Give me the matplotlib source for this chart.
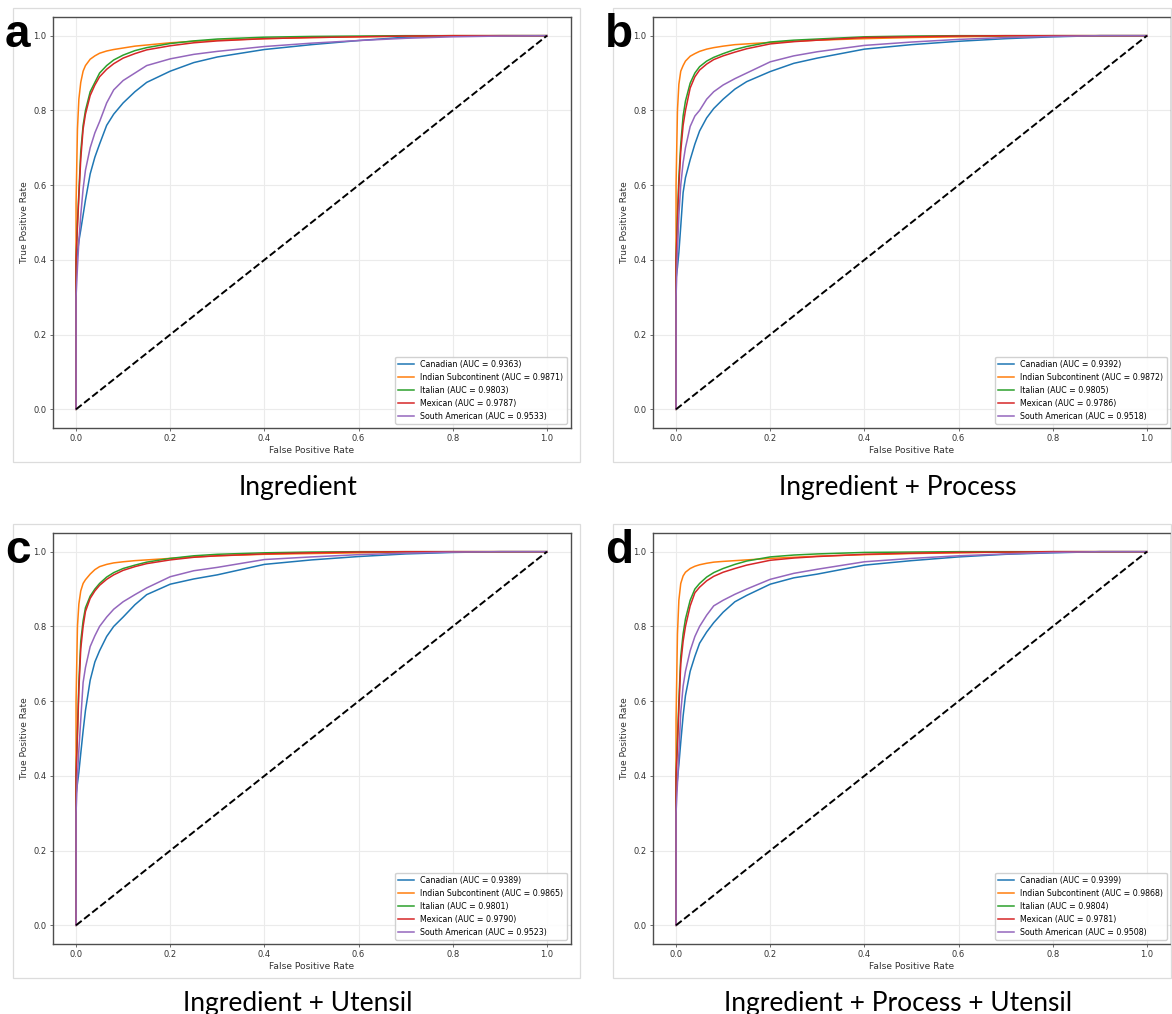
import matplotlib
matplotlib.use("Agg")
import matplotlib.pyplot as plt
from matplotlib.patches import Rectangle

# ---- data -------------------------------------------------------------
cuisines = ["Canadian", "Indian Subcontinent", "Italian", "Mexican", "South American"]
colors = ["#1f77b4", "#ff7f0e", "#2ca02c", "#d62728", "#9467bd"]

# shared false-positive-rate grid (first two points form the vertical start)
fpr = [0, 0, 0.003, 0.006, 0.01, 0.015, 0.02, 0.03, 0.04, 0.05, 0.065, 0.08,
       0.1, 0.125, 0.15, 0.2, 0.25, 0.3, 0.4, 0.5, 0.6, 0.7, 0.8, 0.9, 1.0]

# panel a: Ingredient
tpr_a_can = [0, 0.38, 0.42, 0.45, 0.48, 0.52, 0.56, 0.63, 0.675, 0.71, 0.76, 0.79, 0.82, 0.85, 0.875, 0.905, 0.928, 0.943, 0.963, 0.976, 0.987, 0.996, 0.999, 1.0, 1.0]
tpr_a_ind = [0, 0.55, 0.75, 0.83, 0.875, 0.905, 0.92, 0.937, 0.946, 0.953, 0.959, 0.963, 0.967, 0.972, 0.975, 0.981, 0.985, 0.988, 0.992, 0.995, 0.997, 0.999, 1.0, 1.0, 1.0]
tpr_a_ita = [0, 0.40, 0.50, 0.58, 0.69, 0.76, 0.80, 0.85, 0.875, 0.90, 0.92, 0.935, 0.948, 0.960, 0.968, 0.979, 0.986, 0.991, 0.996, 0.998, 0.999, 1.0, 1.0, 1.0, 1.0]
tpr_a_mex = [0, 0.40, 0.49, 0.57, 0.67, 0.75, 0.79, 0.84, 0.868, 0.89, 0.91, 0.925, 0.94, 0.952, 0.962, 0.973, 0.981, 0.986, 0.992, 0.995, 0.997, 0.999, 1.0, 1.0, 1.0]
tpr_a_sam = [0, 0.30, 0.38, 0.45, 0.52, 0.59, 0.64, 0.70, 0.74, 0.77, 0.82, 0.855, 0.88, 0.90, 0.92, 0.938, 0.95, 0.958, 0.971, 0.98, 0.987, 0.993, 0.997, 0.999, 1.0]
auc_a = [0.9363, 0.9871, 0.9803, 0.9787, 0.9533]

# panel b: Ingredient + Process
tpr_b_can = [0, 0.35, 0.38, 0.42, 0.49, 0.58, 0.62, 0.668, 0.71, 0.745, 0.78, 0.805, 0.83, 0.857, 0.877, 0.904, 0.926, 0.94, 0.964, 0.976, 0.985, 0.992, 0.997, 1.0, 1.0]
tpr_b_ind = [0, 0.6, 0.80, 0.87, 0.905, 0.92, 0.932, 0.945, 0.952, 0.958, 0.964, 0.968, 0.972, 0.976, 0.978, 0.982, 0.985, 0.988, 0.992, 0.995, 0.997, 0.999, 1.0, 1.0, 1.0]
tpr_b_ita = [0, 0.4, 0.52, 0.62, 0.71, 0.785, 0.825, 0.873, 0.90, 0.917, 0.932, 0.942, 0.952, 0.963, 0.971, 0.983, 0.988, 0.991, 0.997, 0.999, 1.0, 1.0, 1.0, 1.0, 1.0]
tpr_b_mex = [0, 0.4, 0.5, 0.6, 0.69, 0.76, 0.80, 0.86, 0.89, 0.908, 0.924, 0.936, 0.946, 0.956, 0.965, 0.978, 0.984, 0.988, 0.995, 0.997, 0.999, 1.0, 1.0, 1.0, 1.0]
tpr_b_sam = [0, 0.3, 0.42, 0.52, 0.6, 0.66, 0.70, 0.757, 0.785, 0.80, 0.83, 0.85, 0.868, 0.885, 0.90, 0.93, 0.946, 0.957, 0.974, 0.983, 0.99, 0.995, 0.998, 1.0, 1.0]
auc_b = [0.9392, 0.9872, 0.9805, 0.9786, 0.9518]

# panel c: Ingredient + Utensil
tpr_c_can = [0, 0.35, 0.38, 0.41, 0.46, 0.52, 0.575, 0.656, 0.705, 0.735, 0.773, 0.80, 0.825, 0.858, 0.885, 0.913, 0.927, 0.938, 0.966, 0.978, 0.987, 0.994, 0.998, 1.0, 1.0]
tpr_c_ind = [0, 0.6, 0.8, 0.86, 0.895, 0.915, 0.925, 0.94, 0.952, 0.96, 0.966, 0.97, 0.973, 0.976, 0.978, 0.982, 0.986, 0.989, 0.993, 0.995, 0.997, 0.999, 1.0, 1.0, 1.0]
tpr_c_ita = [0, 0.4, 0.52, 0.65, 0.76, 0.815, 0.85, 0.881, 0.90, 0.915, 0.932, 0.944, 0.955, 0.964, 0.972, 0.982, 0.989, 0.993, 0.997, 0.999, 1.0, 1.0, 1.0, 1.0, 1.0]
tpr_c_mex = [0, 0.4, 0.51, 0.63, 0.74, 0.80, 0.84, 0.875, 0.895, 0.91, 0.926, 0.938, 0.95, 0.96, 0.968, 0.978, 0.985, 0.989, 0.994, 0.997, 0.999, 1.0, 1.0, 1.0, 1.0]
tpr_c_sam = [0, 0.3, 0.40, 0.47, 0.55, 0.65, 0.69, 0.746, 0.775, 0.80, 0.825, 0.846, 0.866, 0.885, 0.903, 0.933, 0.949, 0.958, 0.979, 0.986, 0.992, 0.996, 0.999, 1.0, 1.0]
auc_c = [0.9389, 0.9865, 0.9801, 0.9790, 0.9523]

# panel d: Ingredient + Process + Utensil
tpr_d_can = [0, 0.35, 0.39, 0.43, 0.49, 0.56, 0.615, 0.68, 0.72, 0.755, 0.785, 0.81, 0.838, 0.866, 0.883, 0.913, 0.93, 0.94, 0.964, 0.976, 0.986, 0.993, 0.997, 1.0, 1.0]
tpr_d_ind = [0, 0.55, 0.78, 0.87, 0.915, 0.935, 0.945, 0.955, 0.961, 0.965, 0.969, 0.972, 0.974, 0.976, 0.978, 0.982, 0.985, 0.988, 0.992, 0.995, 0.997, 0.999, 1.0, 1.0, 1.0]
tpr_d_ita = [0, 0.4, 0.5, 0.6, 0.72, 0.78, 0.82, 0.87, 0.90, 0.915, 0.932, 0.944, 0.955, 0.966, 0.975, 0.986, 0.991, 0.994, 0.998, 0.999, 1.0, 1.0, 1.0, 1.0, 1.0]
tpr_d_mex = [0, 0.4, 0.48, 0.58, 0.70, 0.76, 0.80, 0.855, 0.89, 0.905, 0.922, 0.934, 0.945, 0.955, 0.964, 0.977, 0.983, 0.987, 0.993, 0.996, 0.998, 0.999, 1.0, 1.0, 1.0]
tpr_d_sam = [0, 0.3, 0.38, 0.46, 0.57, 0.64, 0.68, 0.735, 0.773, 0.80, 0.83, 0.855, 0.87, 0.886, 0.90, 0.926, 0.942, 0.953, 0.973, 0.982, 0.989, 0.994, 0.998, 1.0, 1.0]
auc_d = [0.9399, 0.9868, 0.9804, 0.9781, 0.9508]

panel_letters = ["a", "b", "c", "d"]
panel_titles = ["Ingredient", "Ingredient + Process",
                "Ingredient + Utensil", "Ingredient + Process + Utensil"]
ticks = [0.0, 0.2, 0.4, 0.6, 0.8, 1.0]

panels = [
    ([tpr_a_can, tpr_a_ind, tpr_a_ita, tpr_a_mex, tpr_a_sam], auc_a),
    ([tpr_b_can, tpr_b_ind, tpr_b_ita, tpr_b_mex, tpr_b_sam], auc_b),
    ([tpr_c_can, tpr_c_ind, tpr_c_ita, tpr_c_mex, tpr_c_sam], auc_c),
    ([tpr_d_can, tpr_d_ind, tpr_d_ita, tpr_d_mex, tpr_d_sam], auc_d),
]

# ---- layout (pixel geometry of a 1172 x 1014 canvas) -------------------
W, H = 1172, 1014
fig = plt.figure(figsize=(W / 100, H / 100), dpi=100)
fig.patch.set_facecolor("white")

col_dx = [0, 600]
row_dy = [0, 516]


def px_rect(x0, y0, x1, y1):
    return [x0 / W, 1 - y1 / H, (x1 - x0) / W, (y1 - y0) / H]


for i, (curves, aucs) in enumerate(panels):
    dx = col_dx[i % 2]
    dy = row_dy[i // 2]

    # light frame around each panel
    fx0, fy0, fx1, fy1 = 13 + dx, 8 + dy, min(580 + dx, W - 1), 462 + dy
    fig.patches.append(Rectangle((fx0 / W, 1 - fy1 / H), (fx1 - fx0) / W, (fy1 - fy0) / H,
                                 transform=fig.transFigure, fill=False,
                                 edgecolor="#dcdcdc", linewidth=0.9, zorder=0))

    ax = fig.add_axes(px_rect(52.5 + dx, 17 + dy, 570.5 + dx, 428 + dy))
    for name, tpr, auc, c in zip(cuisines, curves, aucs, colors):
        ax.plot(fpr, tpr, color=c, lw=1.1, label=f"{name} (AUC = {auc:.4f})")
    ax.plot([0, 1], [0, 1], "k--", lw=1.4)

    ax.set_xticks(ticks)
    ax.set_yticks(ticks)
    ax.set_xlim(-0.05, 1.05)
    ax.set_ylim(-0.05, 1.05)
    ax.grid(True, color="#ebebeb", lw=0.8)
    ax.set_axisbelow(True)
    ax.tick_params(labelsize=6.0, length=2.5, width=0.6, colors="#555555",
                   labelcolor="#333333", pad=2)
    for s in ax.spines.values():
        s.set_color("#4d4d4d")
        s.set_linewidth(1.0)
    ax.set_xlabel("False Positive Rate", fontsize=6.6, color="#333333", labelpad=2)
    ax.set_ylabel("True Positive Rate", fontsize=6.6, color="#333333", labelpad=3)
    ax.legend(loc="lower right", fontsize=5.7, frameon=True, fancybox=True,
              framealpha=0.9, handlelength=2.0)

    # panel letter and caption
    fig.text((5 + dx) / W, 1 - (47 + dy) / H, panel_letters[i],
             fontsize=33, fontweight="bold", family="Liberation Sans",
             ha="left", va="baseline")
    fig.text((298 + dx) / W, 1 - (495 + dy) / H, panel_titles[i],
             fontsize=19, family="Lato", ha="center", va="baseline")

fig.savefig("out.png", dpi=100, facecolor="white")
